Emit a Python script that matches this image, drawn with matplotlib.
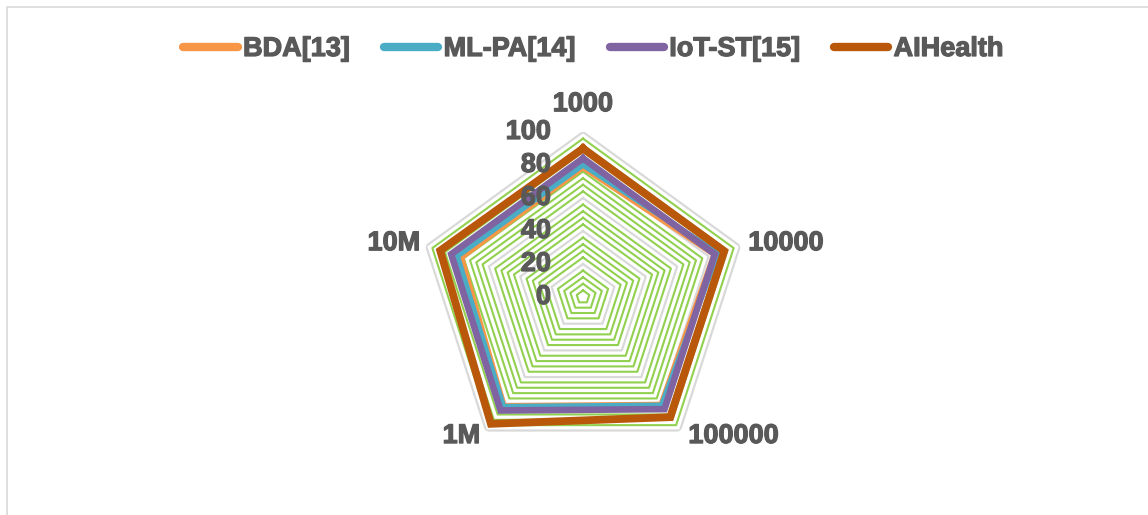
import numpy as np
import matplotlib.pyplot as plt
import matplotlib.patheffects as pe
from matplotlib.lines import Line2D
from matplotlib.patches import Rectangle

plt.rcParams['font.family'] = ['Liberation Sans', 'DejaVu Sans']
plt.rcParams['font.weight'] = 'bold'

# Data sizes on each spoke, clockwise from the top
categories = ['1000', '10000', '100000', '1M', '10M']
series_names = ['BDA[13]', 'ML-PA[14]', 'IoT-ST[15]', 'AIHealth']
bda = [78, 83, 80, 81, 77]
ml_pa = [80, 86, 81, 82, 80]
iot_st = [84, 84, 84, 85, 84]
aihealth = [90, 90, 90, 95, 91]
radial_ticks = [0, 20, 40, 60, 80, 100]
fine_rings = [4, 8, 12, 16, 24, 28, 32, 36, 44, 48, 52, 56,
              64, 68, 72, 76, 84, 88, 92, 96]

colors = ['#F79646', '#4BACC6', '#8064A2', '#B9580B']
widths = [3.0, 3.8, 4.8, 5.6]
text_color = '#595959'
fs = 19.5
heavy = [pe.withStroke(linewidth=0.9, foreground=text_color)]

fig = plt.figure(figsize=(11.48, 5.15), dpi=100)
ax = fig.add_axes([0.3641, 0.1029, 0.2875, 0.6408], projection='polar')
ax.set_theta_zero_location('N')
ax.set_theta_direction(-1)
ax.set_ylim(0, 100)
ax.grid(False)
ax.spines['polar'].set_visible(False)
ax.set_xticks([])
ax.set_yticks([])
ax.patch.set_alpha(0)

n = len(categories)
theta = np.linspace(0, 2 * np.pi, n, endpoint=False)
theta_closed = np.append(theta, theta[0])

# pentagon rings: thin green ones and grey major gridlines
for r in fine_rings:
    ax.plot(theta_closed, [r] * (n + 1), color='#92D050', lw=1.5, zorder=1)
for r in radial_ticks[1:]:
    ax.plot(theta_closed, [r] * (n + 1), color='#D9D9D9', lw=1.6, zorder=1)

handles = []
for vals, name, c, w in zip([bda, ml_pa, iot_st, aihealth], series_names, colors, widths):
    ax.plot(theta_closed, vals + vals[:1], color=c, lw=w,
            solid_joinstyle='miter', zorder=3)
    handles.append(Line2D([], [], color=c, lw=6, solid_capstyle='round', label=name))

# radial value labels left of the top spoke
for r in radial_ticks:
    ax.annotate(str(r), xy=(0, r), xytext=(-23, 0), textcoords='offset points',
                ha='right', va='center', fontsize=fs, color=text_color,
                fontweight='bold', annotation_clip=False, path_effects=heavy)

# category labels at the spoke ends
label_offsets = [(0, 20, 'center'), (6, 2, 'left'), (6, -4, 'left'),
                 (-4, -4, 'right'), (-4, 2, 'right')]
for t, cat, (dx, dy, ha) in zip(theta, categories, label_offsets):
    ax.annotate(cat, xy=(t, 100), xytext=(dx, dy), textcoords='offset points',
                ha=ha, va='center', fontsize=fs, color=text_color,
                fontweight='bold', annotation_clip=False, path_effects=heavy)

leg = fig.legend(handles=handles, loc='center', bbox_to_anchor=(0.517, 1 - 49 / 515),
                 ncol=4, frameon=False, fontsize=fs, handlelength=2.0,
                 handletextpad=0.2, columnspacing=1.25)
for txt in leg.get_texts():
    txt.set_color(text_color)
    txt.set_fontweight('bold')
    txt.set_path_effects(heavy)

# chart area border
fig.add_artist(Rectangle((7 / 1148, -0.1), 1.2, (515 - 7) / 515 + 0.1,
                         transform=fig.transFigure, fill=False,
                         edgecolor='#D9D9D9', lw=1.2))

fig.savefig('out.png', dpi=100)
plt.close(fig)
